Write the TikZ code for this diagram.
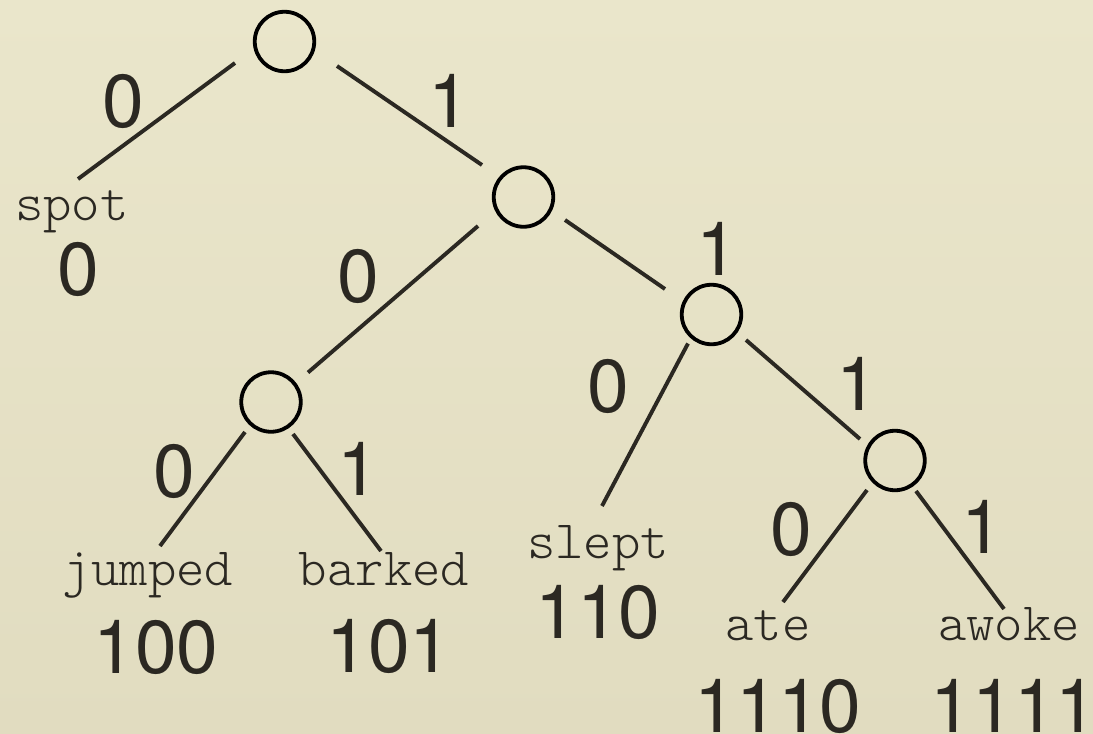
\documentclass[tikz,border=0pt]{standalone}
\usepackage{fontspec}
\usetikzlibrary{calc}
\newfontfamily\wordfont{Latin Modern Mono Light}
\newfontfamily\digitfont{TeX Gyre Heros}
\definecolor{paper}{HTML}{EAE6CB}
\definecolor{paperlow}{HTML}{E1DCC0}
\definecolor{ink}{HTML}{2B2822}

\begin{document}
\begin{tikzpicture}[x=1pt,y=-1pt,
  vertex/.style={circle,draw=black,line width=3.8pt,minimum size=59.5pt,inner sep=0pt},
  edge/.style={draw=ink,line width=3.9pt},
  word/.style={anchor=base,inner sep=0pt,text=ink,font={\wordfont\fontsize{54}{54}\selectfont}},
  bit/.style={anchor=base,inner sep=0pt,text=ink,font={\digitfont\fontsize{75}{75}\selectfont}},
  codeword/.style={bit}]

% page
\useasboundingbox (0,0) rectangle (1093,734);
\shade[top color=paper,bottom color=paperlow] (0,0) rectangle (1093,734);

% internal vertices
\node[vertex] (root) at (284.5,41.5) {};
\node[vertex] (n1)   at (523.5,197)  {};
\node[vertex] (n2)   at (711.5,314.5) {};
\node[vertex] (n3)   at (271,402)    {};
\node[vertex] (n4)   at (895,460.5)  {};

% leaves
\node[word] (spot)   at (72,220)   {spot};
\node[word] (jumped) at (148,585)  {jumped};
\node[word] (barked) at (384,585)  {barked};
\node[word] (slept)  at (598,558)  {slept};
\node[word] (ate)    at (768,640)  {ate};
\node[word] (awoke)  at (1009,640) {awoke};

% codewords under the leaves
\node[codeword] (cspot)   at (78,295)   {0};
\node[codeword] (cjumped) at (156,673)  {100};
\node[codeword] (cbarked) at (389,672)  {101};
\node[codeword] (cslept)  at (598,638)  {110};
\node[codeword] (cate)    at (778,732)  {1110};
\node[codeword] (cawoke)  at (1014,732) {1111};

% branches
\draw[edge] ($(root)+(-49.5,21.5)$) -- ($(spot.base)+(6,-41)$);
\draw[edge] ($(root)+(52.5,24.5)$)  -- ($(n1)+(-41.5,-32)$);
\draw[edge] ($(n1)+(-45.5,29)$)     -- ($(n3)+(37,-29.5)$);
\draw[edge] ($(n1)+(41.5,23)$)      -- ($(n2)+(-46.5,-25.5)$);
\draw[edge] ($(n2)+(-23.5,29)$)     -- ($(slept.base)+(4,-52)$);
\draw[edge] ($(n2)+(34.5,25.5)$)    -- ($(n4)+(-35,-21.5)$);
\draw[edge] ($(n3)+(-26,30)$)       -- ($(jumped.base)+(12,-39)$);
\draw[edge] ($(n3)+(22,32)$)        -- ($(barked.base)+(-3,-34)$);
\draw[edge] ($(n4)+(-28,29.5)$)     -- ($(ate.base)+(15,-38)$);
\draw[edge] ($(n4)+(21,30.5)$)      -- ($(awoke.base)+(-5,-31)$);

% branch bits
\node[bit] (b1)  at (123.5,127) {0};
\node[bit] (b2)  at (449.5,127) {1};
\node[bit] (b3)  at (358.5,302) {0};
\node[bit] (b4)  at (717,275)   {1};
\node[bit] (b5)  at (608.5,412) {0};
\node[bit] (b6)  at (857,410)   {1};
\node[bit] (b7)  at (174,497)   {0};
\node[bit] (b8)  at (358.5,495) {1};
\node[bit] (b9)  at (791,555)   {0};
\node[bit] (b10) at (982,553)   {1};
\end{tikzpicture}
\end{document}
